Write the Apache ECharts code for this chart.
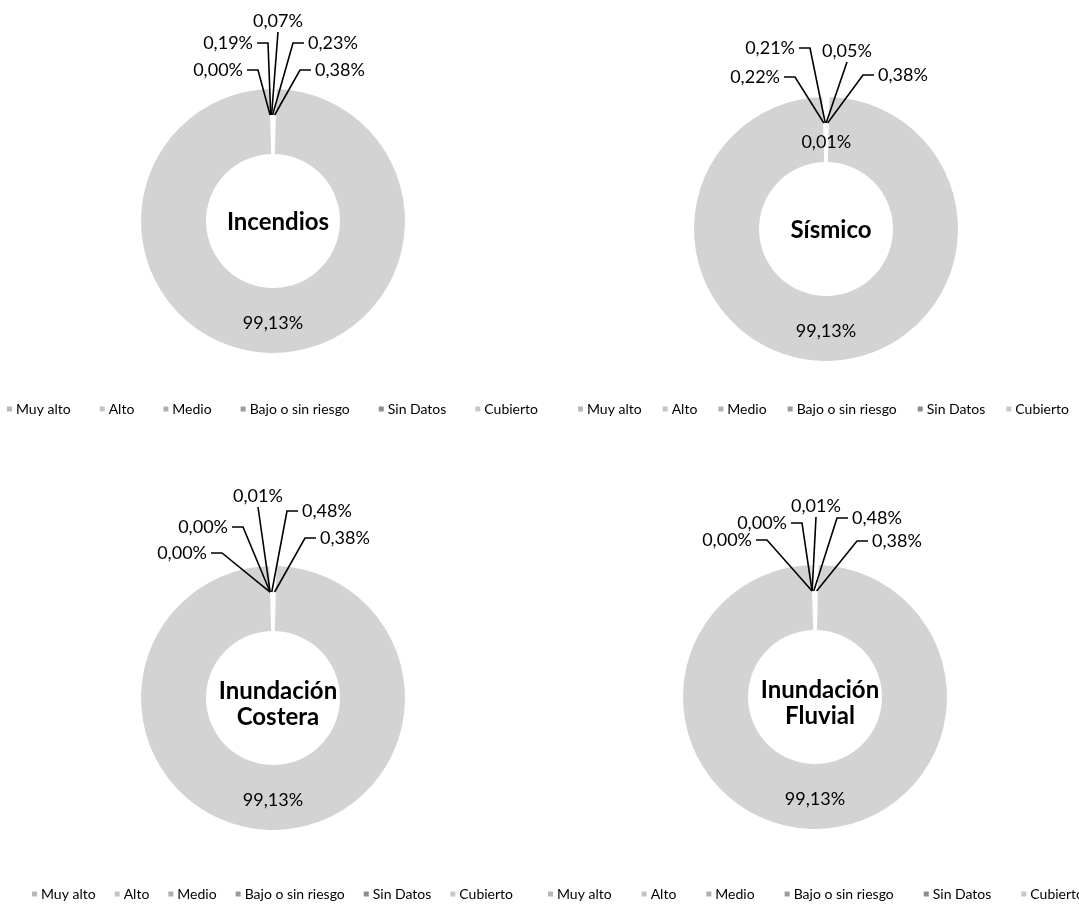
<!DOCTYPE html>
<html>
<head>
<meta charset="utf-8">
<script src="https://cdn.jsdelivr.net/npm/echarts@6/dist/echarts.min.js"></script>
<style>
html,body{margin:0;padding:0;background:#fff;}
#main{width:1079px;height:920px;}
</style>
</head>
<body>
<div id="main"></div>
<script>
const categories = ['Muy alto', 'Alto', 'Medio', 'Bajo o sin riesgo', 'Sin Datos', 'Cubierto'];
const incendios = [0.00, 0.19, 0.07, 0.23, 0.38, 99.13];
const sismico = [0.22, 0.21, 0.05, 0.01, 0.38, 99.13];
const costera = [0.00, 0.00, 0.01, 0.48, 0.38, 99.13];
const fluvial = [0.00, 0.00, 0.01, 0.48, 0.38, 99.13];
const chartTitles = ['Incendios', 'Sísmico', 'Inundación\nCostera', 'Inundación\nFluvial'];
// index of a category whose label sits inside the ring (per chart), -1 for none
const insideLabelIdx = [-1, 3, -1, -1];

const seriesValues = [incendios, sismico, costera, fluvial];

// ---- layout / style (not data) ----
const centers = [[273, 221], [826, 229], [273, 698], [815, 697]];
const R_OUT = 132, R_IN = 67;
// label fan: elbow offset from the chart centre and side of the text
const fanSpecs = [
  [[-15, -151, 'L'], [-5, -178, 'L'], [5, -189, 'T'], [20, -178, 'R'], [27, -151, 'R']],
  [[-31, -152, 'L'], [-16, -181, 'L'], [21, -167, 'T'], null, [37, -154, 'R']],
  [[-51, -145, 'L'], [-30, -171, 'L'], [-15, -191, 'T'], [14, -187, 'R'], [32, -160, 'R']],
  [[-48, -157, 'L'], [-13, -174, 'L'], [1, -180, 'T'], [22, -179, 'R'], [42, -156, 'R']]
];
const legendTops = [397, 397, 882, 882];
const legendLefts = [2, 573, 27, 543];
const legendGaps = [29, 21, 19, 30];
const sliceColors = ['#ffffff', '#ffffff', '#ffffff', '#ffffff', '#ffffff', '#d3d3d3'];
const legendMarkColors = ['#b8b8b8', '#c4c4c4', '#b0b0b0', '#9c9c9c', '#8c8c8c', '#c8c8c8'];
const FONT = 'Lato, "Noto Sans", sans-serif';

function fmt(v) { return v.toFixed(2).replace('.', ',') + '%'; }

const chart = echarts.init(document.getElementById('main'), null, { renderer: 'canvas' });

function makeLabelLayout(ci) {
  const c = centers[ci];
  const k = 106 / R_OUT;
  return function (params) {
    const spec = fanSpecs[ci][params.dataIndex];
    if (!spec) return {};
    const p0 = params.labelLinePoints && params.labelLinePoints[0];
    const anchor = p0 ? [c[0] + (p0[0] - c[0]) * k, c[1] + (p0[1] - c[1]) * k] : [c[0], c[1] - 106];
    const ex = c[0] + spec[0], ey = c[1] + spec[1];
    const h = 11, gap = 4;
    if (spec[2] === 'L') {
      return { x: ex - h - gap, y: ey, align: 'right', verticalAlign: 'middle',
        labelLinePoints: [anchor, [ex, ey], [ex - h, ey]] };
    } else if (spec[2] === 'R') {
      return { x: ex + h + gap, y: ey, align: 'left', verticalAlign: 'middle',
        labelLinePoints: [anchor, [ex, ey], [ex + h, ey]] };
    }
    return { x: ex, y: ey - 2, align: 'center', verticalAlign: 'bottom',
      labelLinePoints: [anchor, [ex, ey], [ex, ey]] };
  };
}

const series = [];
seriesValues.forEach((vals, ci) => {
  const small = vals.slice(0, 5).reduce((a, b) => a + b, 0);
  const startAngle = 90 + small / 100 * 360 / 2;
  const common = {
    type: 'pie',
    center: centers[ci],
    radius: [R_IN, R_OUT],
    startAngle: startAngle,
    clockwise: true,
    avoidLabelOverlap: false,
    minShowLabelAngle: 0,
    stillShowZeroSum: true,
    animation: false,
    silent: true
  };
  // ring fill (drawn underneath)
  series.push(Object.assign({}, common, {
    z: 1,
    label: { show: false },
    labelLine: { show: false },
    data: vals.map((v, i) => ({ name: categories[i], value: v, itemStyle: { color: sliceColors[i] } }))
  }));
  // labels + leader lines (drawn on top, transparent sectors)
  series.push(Object.assign({}, common, {
    z: 3,
    label: {
      show: true,
      position: 'outside',
      color: '#000',
      fontFamily: FONT,
      fontSize: 18,
      formatter: p => fmt(p.value)
    },
    labelLine: {
      show: true,
      length: 20,
      length2: 8,
      lineStyle: { color: '#000', width: 1.6 }
    },
    labelLayout: makeLabelLayout(ci),
    data: vals.map((v, i) => {
      const d = { name: categories[i], value: v, itemStyle: { color: 'rgba(0,0,0,0)' } };
      if (i === 5 || i === insideLabelIdx[ci]) {
        d.label = { position: 'inside', offset: i === 5 ? [0, 0] : [0, 16] };
        d.labelLine = { show: false };
      }
      return d;
    })
  }));
});

const legends = centers.map((c, ci) => ({
  orient: 'horizontal',
  left: legendLefts[ci],
  top: legendTops[ci],
  width: 800,
  itemWidth: 5,
  itemHeight: 5,
  itemGap: legendGaps[ci],
  icon: 'rect',
  selectedMode: false,
  textStyle: { fontFamily: FONT, fontSize: 14, color: '#000', padding: [0, 0, 0, -1] },
  data: categories.map((n, i) => ({ name: n, itemStyle: { color: legendMarkColors[i] } }))
}));

const titles = centers.map((c, ci) => ({
  text: chartTitles[ci],
  left: c[0],
  top: c[1] + (ci >= 2 ? 1 : -4),
  textAlign: 'center',
  textVerticalAlign: 'middle',
  textStyle: { fontFamily: FONT, fontSize: 24, fontWeight: 'bold', color: '#000', lineHeight: 26 }
}));

chart.setOption({
  backgroundColor: '#fff',
  title: titles,
  legend: legends,
  series: series
});
</script>
</body>
</html>
